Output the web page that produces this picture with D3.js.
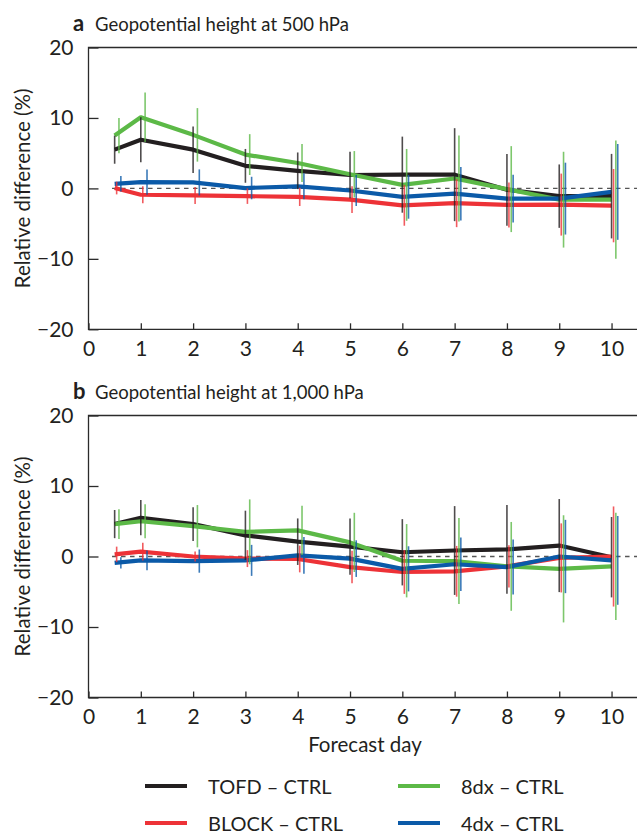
<!DOCTYPE html>
<html>
<head>
<meta charset="utf-8">
<script src="https://cdn.jsdelivr.net/npm/d3@7"></script>
<style>
  html, body { margin: 0; padding: 0; background: #fff; }
  svg { display: block; font-family: Lato, "Open Sans", sans-serif; }
</style>
</head>
<body>
<svg id="chart" width="637" height="834"></svg>
<script>
// Forecast days at which each experiment was verified
const days = [0.5, 1, 2, 3, 4, 5, 6, 7, 8, 9, 10];
const xTicks = [0, 1, 2, 3, 4, 5, 6, 7, 8, 9, 10];
const yTicks = [-20, -10, 0, 10, 20];

const seriesNames = ["TOFD – CTRL", "BLOCK – CTRL", "8dx – CTRL", "4dx – CTRL"];
const seriesColors = ["#231f20", "#ed3237", "#5cb947", "#0b5aa8"];

// Panel a: geopotential height at 500 hPa — mean relative difference (%)
const z500_tofd  = [5.5, 6.9, 5.5, 3.2, 2.5, 1.9, 1.95, 1.95, -0.2, -1.1, -1.1];
const z500_block = [0.05, -0.9, -1.0, -1.1, -1.2, -1.6, -2.4, -2.1, -2.35, -2.3, -2.45];
const z500_8dx   = [7.5, 10.1, 7.6, 4.8, 3.6, 2.0, 0.5, 1.4, -0.1, -1.6, -1.6];
const z500_4dx   = [0.65, 0.9, 0.85, 0.05, 0.3, -0.3, -1.2, -0.75, -1.45, -1.45, -0.5];
// Panel a: half-width of the spread bars (%)
const z500_tofd_err  = [2.0, 3.2, 3.3, 2.4, 2.6, 3.3, 5.4, 6.6, 5.1, 4.5, 6.0];
const z500_block_err = [0.9, 1.2, 1.2, 1.1, 1.3, 1.9, 2.9, 3.4, 3.2, 4.4, 5.2];
const z500_8dx_err   = [2.5, 3.5, 3.8, 2.9, 2.7, 3.3, 5.1, 6.1, 6.1, 6.8, 8.4];
const z500_4dx_err   = [1.1, 1.8, 1.85, 1.6, 1.85, 2.2, 3.1, 3.8, 3.4, 5.1, 6.8];

// Panel b: geopotential height at 1,000 hPa
const z1000_tofd  = [4.6, 5.5, 4.6, 3.0, 2.1, 1.4, 0.6, 0.85, 1.0, 1.55, -0.1];
const z1000_block = [0.3, 0.7, 0.0, -0.3, -0.35, -1.5, -2.2, -2.1, -1.4, -0.2, 0.0];
const z1000_8dx   = [4.6, 5.0, 4.3, 3.5, 3.7, 2.0, -0.6, -0.65, -1.4, -1.75, -1.4];
const z1000_4dx   = [-0.9, -0.55, -0.65, -0.55, 0.15, -0.3, -1.75, -1.1, -1.5, 0.0, -0.55];
const z1000_tofd_err  = [2.0, 2.5, 2.4, 3.5, 3.3, 4.0, 4.7, 6.3, 6.3, 6.6, 5.7];
const z1000_block_err = [1.1, 1.25, 0.7, 1.2, 1.9, 2.3, 3.1, 3.6, 3.0, 4.9, 7.1];
const z1000_8dx_err   = [2.1, 2.4, 3.0, 4.6, 3.5, 4.2, 5.2, 6.1, 6.3, 7.6, 7.6];
const z1000_4dx_err   = [0.8, 1.4, 1.65, 2.2, 2.6, 2.6, 3.2, 3.8, 3.9, 5.2, 6.3];

const panels = [
  { letter: "a", title: "Geopotential height at 500 hPa",
    values: [z500_tofd, z500_block, z500_8dx, z500_4dx],
    errors: [z500_tofd_err, z500_block_err, z500_8dx_err, z500_4dx_err],
    top: 47.5, bottom: 329.3, xLabel: false },
  { letter: "b", title: "Geopotential height at 1,000 hPa",
    values: [z1000_tofd, z1000_block, z1000_8dx, z1000_4dx],
    errors: [z1000_tofd_err, z1000_block_err, z1000_8dx_err, z1000_4dx_err],
    top: 415.5, bottom: 697.5, xLabel: true }
];

const ink = "#231f20";
const svg = d3.select("#chart");
const left = 88.5, right = 637.7;
const x = d3.scaleLinear().domain([0, 10.5]).range([left, right]);
// small horizontal stagger of the spread bars so they do not overlap
const barShift = [0, 2, 4.3, 6.2];
const drawOrder = [0, 1, 2, 3];

panels.forEach(p => {
  const y = d3.scaleLinear().domain([-20, 20]).range([p.bottom, p.top]);
  const g = svg.append("g");

  // frame (right edge runs off the canvas)
  g.append("path")
    .attr("d", `M${right + 2},${p.top}H${left}V${p.bottom}H${right + 2}`)
    .attr("fill", "none").attr("stroke", "#2b2b2b").attr("stroke-width", 1.3);

  // y axis ticks (inside) and labels
  const yAxis = d3.axisLeft(y).tickValues(yTicks).tickSize(-10).tickPadding(15)
    .tickFormat(d => d < 0 ? "\u2212" + Math.abs(d) : d);
  const ya = g.append("g").attr("transform", `translate(${left},0)`).call(yAxis);
  ya.select(".domain").remove();
  ya.selectAll("line").attr("stroke", "#2b2b2b").attr("stroke-width", 1.3);
  ya.selectAll("text").attr("font-size", 21).attr("fill", ink)
    .attr("font-family", "Lato, sans-serif");

  // x axis ticks (inside) and labels
  const xAxis = d3.axisBottom(x).tickValues(xTicks).tickSize(-6).tickPadding(12);
  const xa = g.append("g").attr("transform", `translate(0,${p.bottom})`).call(xAxis);
  xa.select(".domain").remove();
  xa.selectAll("line").attr("stroke", "#2b2b2b").attr("stroke-width", 1.3);
  xa.selectAll("text").attr("font-size", 21).attr("fill", ink)
    .attr("font-family", "Lato, sans-serif");

  // y axis title
  g.append("text")
    .attr("transform", `translate(30,${y(0)}) rotate(-90)`)
    .attr("text-anchor", "middle")
    .attr("font-size", 20.5).attr("fill", ink)
    .text("Relative difference (%)");

  // panel heading
  const head = g.append("text").attr("x", 73).attr("y", p.top - 17)
    .attr("fill", ink);
  head.append("tspan").attr("font-weight", "bold").attr("font-size", 22).text(p.letter);
  head.append("tspan").attr("x", 95).attr("font-size", 18.5).text(p.title);

  // zero reference line
  g.append("line")
    .attr("x1", x(0.45)).attr("x2", right)
    .attr("y1", y(0)).attr("y2", y(0))
    .attr("stroke", "#555").attr("stroke-width", 1.3)
    .attr("stroke-dasharray", "4.5,4.5");

  // series lines
  const line = d3.line().x((d, i) => x(days[i])).y(d => y(d));
  drawOrder.forEach(s => {
    g.append("path")
      .datum(p.values[s])
      .attr("d", line)
      .attr("fill", "none")
      .attr("stroke", seriesColors[s])
      .attr("stroke-width", 4.2)
      .attr("stroke-linejoin", "round");
  });

  // spread bars
  drawOrder.forEach(s => {
    g.append("g").selectAll("line")
      .data(p.values[s])
      .join("line")
      .attr("x1", (d, i) => x(days[i]) + barShift[s])
      .attr("x2", (d, i) => x(days[i]) + barShift[s])
      .attr("y1", (d, i) => y(d + p.errors[s][i]))
      .attr("y2", (d, i) => y(d - p.errors[s][i]))
      .attr("stroke", seriesColors[s])
      .attr("stroke-opacity", 0.8)
      .attr("stroke-width", 1.6);
  });

  if (p.xLabel) {
    g.append("text")
      .attr("x", 365).attr("y", 752)
      .attr("text-anchor", "middle")
      .attr("font-size", 20.5).attr("fill", ink)
      .text("Forecast day");
  }
});

// legend
const legendPos = [[145, 786], [145, 823], [398, 786], [398, 823]];
const lg = svg.append("g");
seriesNames.forEach((name, s) => {
  const [lx, ly] = legendPos[s];
  lg.append("line")
    .attr("x1", lx).attr("x2", lx + 42).attr("y1", ly).attr("y2", ly)
    .attr("stroke", seriesColors[s]).attr("stroke-width", 4);
  lg.append("text")
    .attr("x", lx + 63).attr("y", ly + 7.5)
    .attr("font-size", 20).attr("fill", ink)
    .text(name);
});
</script>
</body>
</html>
